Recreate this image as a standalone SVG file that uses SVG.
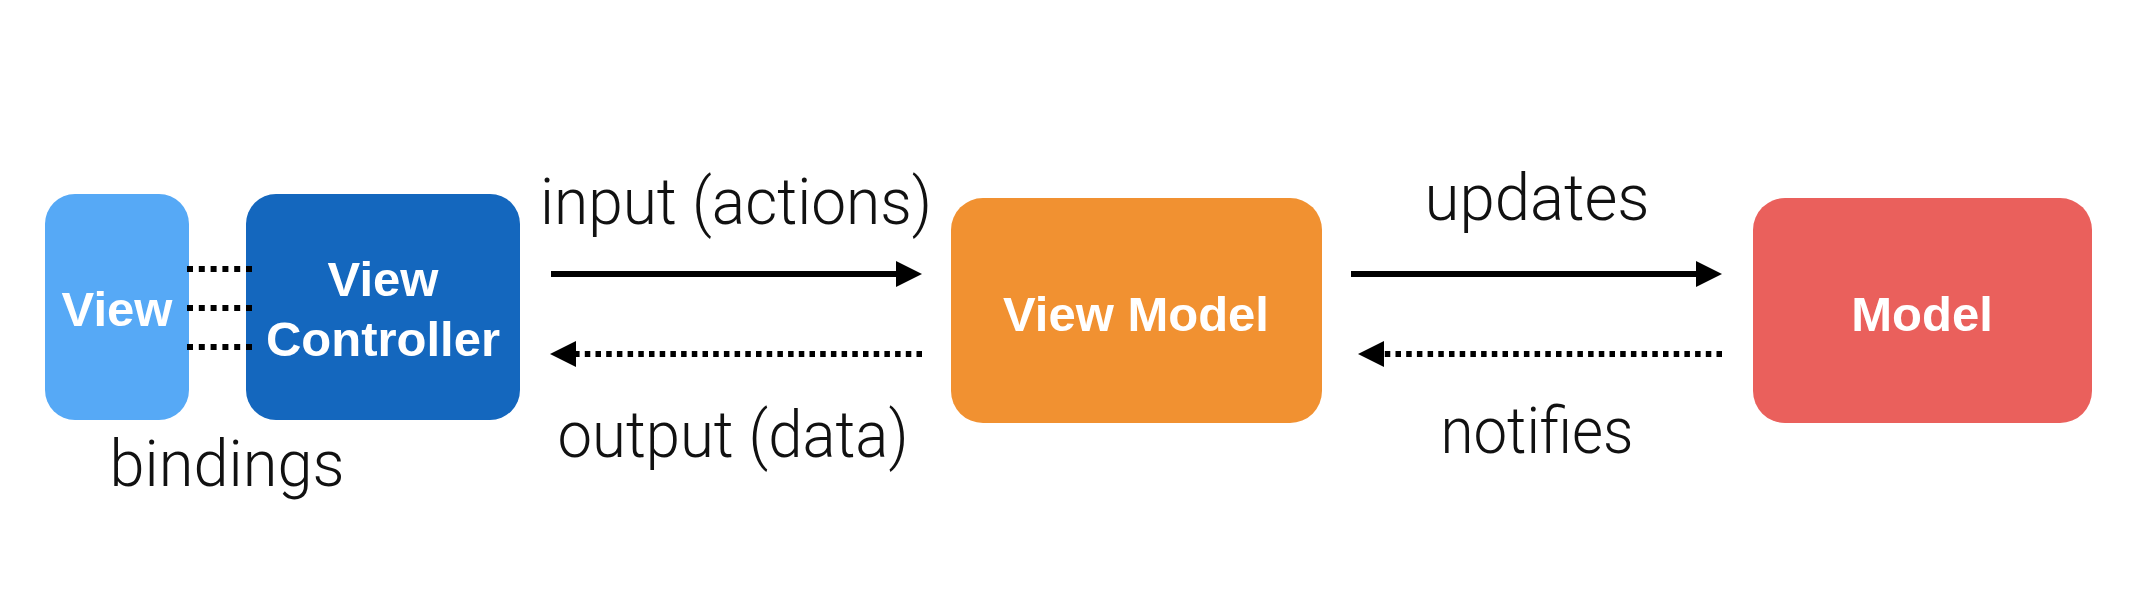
<svg xmlns="http://www.w3.org/2000/svg" width="2134" height="616" viewBox="0 0 2134 616">
  <style>
    .lbl { font-family: Roboto, "Liberation Sans", Arial, sans-serif; font-weight: 300; font-size: 64px; fill: #111; text-anchor: middle; }
    .node-text { font-family: "Liberation Sans", Arial, sans-serif; font-weight: bold; font-size: 49px; fill: #ffffff; text-anchor: middle; }
    .solid { stroke: #000; stroke-width: 6; fill: none; }
    .dotted { stroke: #000; stroke-width: 6; fill: none; stroke-dasharray: 5.5 5.2; }
    .bind { stroke: #000; stroke-width: 6; fill: none; stroke-dasharray: 6 5.8; }
  </style>
  <defs>
    <marker id="head" viewBox="0 0 26 26" markerWidth="26" markerHeight="26" refX="0" refY="13" markerUnits="userSpaceOnUse" orient="auto">
      <path d="M0,0 L26,13 L0,26 Z" fill="#000"/>
    </marker>
  </defs>
  <rect width="2134" height="616" fill="#ffffff"/>

  <g id="view">
    <rect x="45" y="194" width="144" height="226" rx="30" ry="30" fill="#56a9f6"/>
    <text class="node-text" x="117" y="326">View</text>
  </g>
  <g id="view-controller">
    <rect x="246" y="194" width="274" height="226" rx="30" ry="30" fill="#1467be"/>
    <text class="node-text" x="383" y="296">View</text>
    <text class="node-text" x="383" y="356">Controller</text>
  </g>
  <g id="view-model">
    <rect x="951" y="198" width="371" height="225" rx="32" ry="32" fill="#f19131"/>
    <text class="node-text" x="1136" y="331">View Model</text>
  </g>
  <g id="model">
    <rect x="1753" y="198" width="339" height="225" rx="32" ry="32" fill="#ea605c"/>
    <text class="node-text" x="1922" y="331">Model</text>
  </g>

  <g id="connectors">
    <line class="bind" x1="187" y1="269" x2="253" y2="269"/>
    <line class="bind" x1="187" y1="308" x2="253" y2="308"/>
    <line class="bind" x1="187" y1="347" x2="253" y2="347"/>

    <line class="solid" x1="551" y1="274" x2="896" y2="274" marker-end="url(#head)"/>
    <line class="dotted" x1="922" y1="354" x2="576" y2="354" marker-end="url(#head)"/>

    <line class="solid" x1="1351" y1="274" x2="1696" y2="274" marker-end="url(#head)"/>
    <line class="dotted" x1="1722" y1="354" x2="1384" y2="354" marker-end="url(#head)"/>
  </g>

  <g id="labels">
    <text class="lbl" x="736" y="224" textLength="392" lengthAdjust="spacingAndGlyphs">input (actions)</text>
    <text class="lbl" x="733" y="457" textLength="351" lengthAdjust="spacingAndGlyphs">output (data)</text>
    <text class="lbl" x="1537" y="220" textLength="225" lengthAdjust="spacingAndGlyphs">updates</text>
    <text class="lbl" x="1537" y="453" textLength="193" lengthAdjust="spacingAndGlyphs">notifies</text>
    <text class="lbl" x="227" y="486" textLength="235" lengthAdjust="spacingAndGlyphs">bindings</text>
  </g>
</svg>
